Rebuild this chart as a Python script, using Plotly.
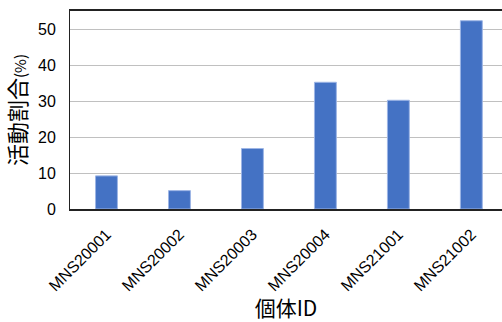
import plotly.graph_objects as go

# 個体ごとの活動割合
individual_ids = ["MNS20001", "MNS20002", "MNS20003", "MNS20004", "MNS21001", "MNS21002"]
activity_pct = [9.2, 5.1, 16.8, 35.2, 30.2, 52.3]
y_ticks = [0, 10, 20, 30, 40, 50]

FONT = "Liberation Sans, Arial, Noto Sans CJK JP, sans-serif"
CJK = "Noto Sans CJK JP"

fig = go.Figure(
    go.Bar(
        x=individual_ids,
        y=activity_pct,
        width=0.3,
        marker=dict(color="#4472C4", line=dict(color="#9DB5E5", width=1)),
    )
)

fig.update_layout(
    width=502,
    height=322,
    margin=dict(l=70, r=0, t=11, b=113),
    paper_bgcolor="white",
    plot_bgcolor="white",
    showlegend=False,
    font=dict(family=FONT, color="#000000"),
)

fig.update_xaxes(
    range=[-0.5, 5.42],
    tickangle=-45,
    tickfont=dict(size=16, family=FONT),
    showline=True,
    linecolor="#222222",
    linewidth=1.5,
    mirror=True,
    ticks="",
    ticklabelstandoff=8,
    title=dict(text="個体ID", font=dict(size=21, family=CJK), standoff=10),
)

fig.update_yaxes(
    range=[0, 55],
    tickvals=y_ticks,
    tickfont=dict(size=16, family=FONT),
    showgrid=True,
    gridcolor="#C0C0C0",
    gridwidth=1,
    zeroline=False,
    showline=True,
    linecolor="#222222",
    linewidth=1,
    ticks="",
    ticklabelstandoff=10,
    title=dict(
        text="活動割合<span style='font-size:15px'>(%)</span>",
        font=dict(size=22, family=CJK),
        standoff=8,
    ),
)

fig.write_html("out.html")
